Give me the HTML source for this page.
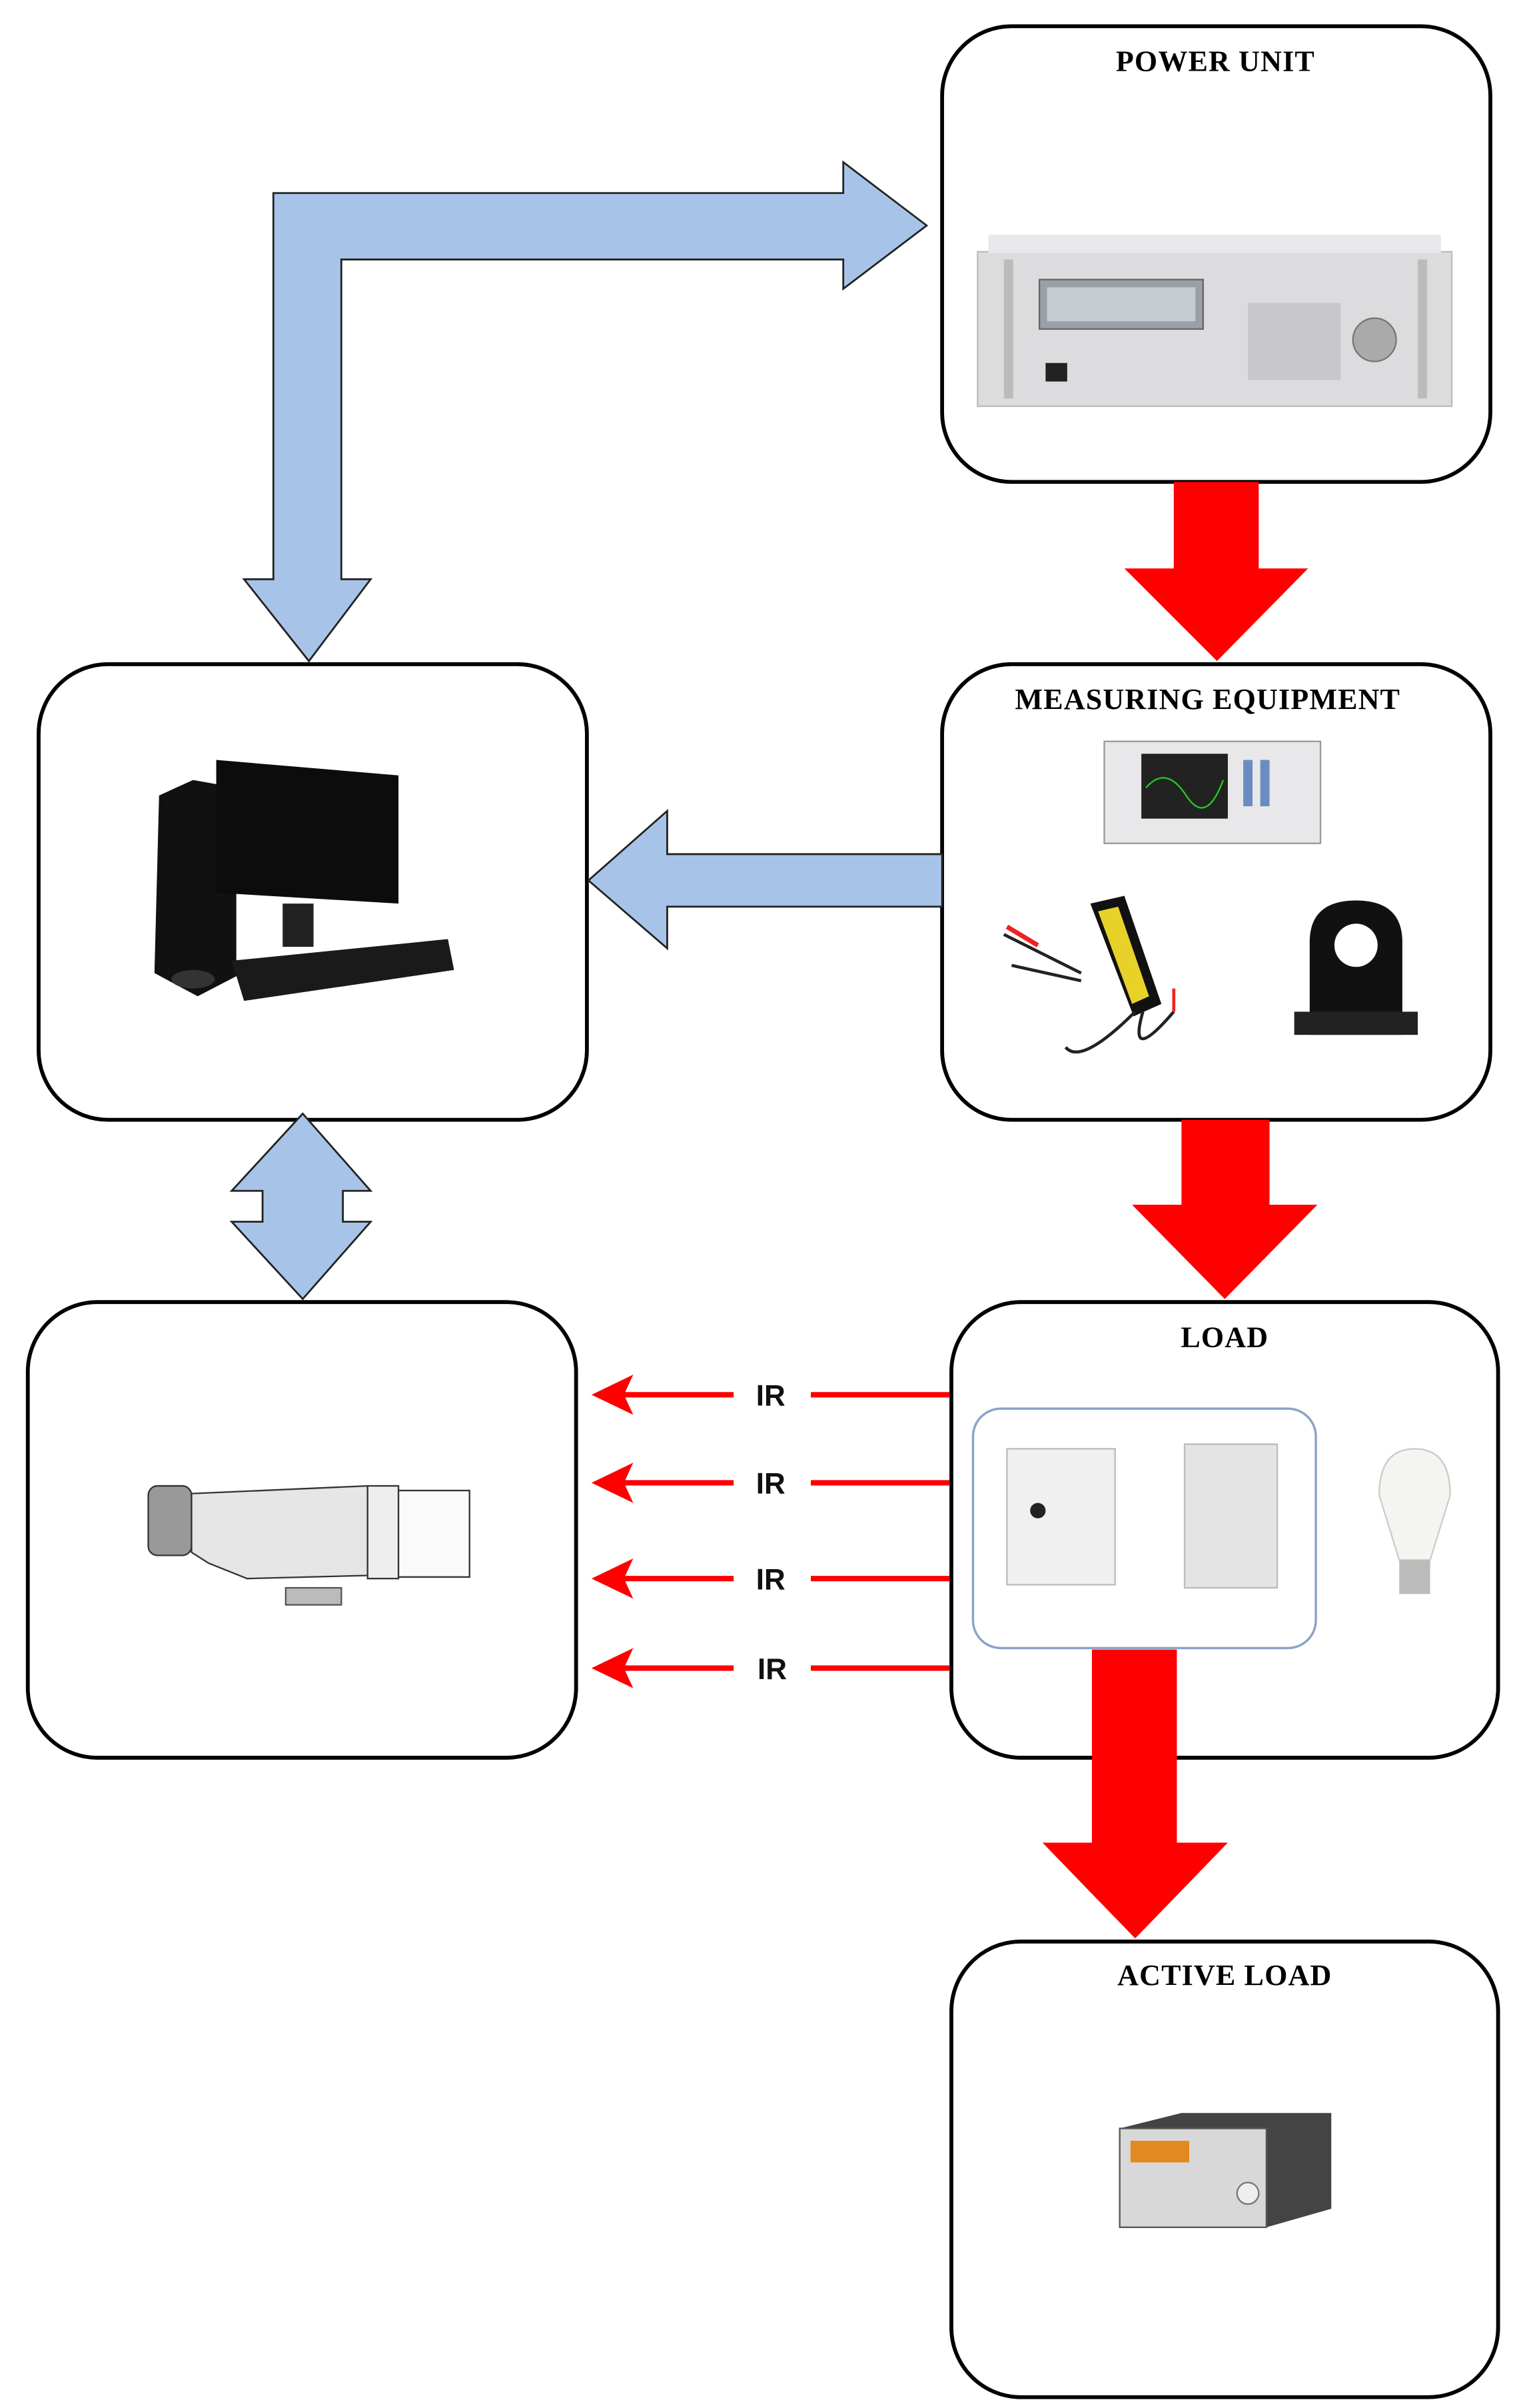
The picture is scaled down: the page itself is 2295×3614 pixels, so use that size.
<!DOCTYPE html>
<html><head><meta charset="utf-8"><style>
html,body{margin:0;padding:0;background:#fff}
svg{display:block}
text{font-family:"Liberation Serif",serif}
text.ir{font-family:"Liberation Sans",sans-serif}
</style></head><body>
<svg width="2295" height="3614" viewBox="0 0 990 1559" xmlns="http://www.w3.org/2000/svg">
<rect width="990" height="1559" fill="#fff"/>
<g fill="#fff" stroke="#000" stroke-width="2.5">
<rect x="610" y="17" width="355" height="295" rx="45"/>
<rect x="25" y="430" width="355" height="295" rx="45"/>
<rect x="610" y="430" width="355" height="295" rx="45"/>
<rect x="18" y="843" width="355" height="295" rx="45"/>
<rect x="616" y="843" width="354" height="295" rx="45"/>
<rect x="616" y="1257" width="354" height="295" rx="45"/>
</g>
<g font-size="19" font-weight="bold" text-anchor="middle" letter-spacing="0.5">
<text x="787" y="46">POWER UNIT</text>
<text x="782" y="459">MEASURING EQUIPMENT</text>
<text x="793" y="872">LOAD</text>
<text x="793" y="1285">ACTIVE LOAD</text>
</g>
<g fill="#a7c4e8" stroke="#222" stroke-width="1.2">
<polygon points="177,125 546,125 546,105 600,146 546,187 546,168 221,168 221,375 240,375 200,428 158,375 177,375"/>
<polygon points="610,553 432,553 432,525 381,570 432,614 432,587 610,587"/>
<polygon points="196,721 240,771 222,771 222,791 240,791 196,841 150,791 170,791 170,771 150,771"/>
</g>
<g fill="#ff0000">
<polygon points="760,312 815,312 815,368 847,368 788,428 728,368 760,368"/>
<polygon points="765,725 822,725 822,780 853,780 793,841 733,780 765,780"/>
<polygon points="707,1068 762,1068 762,1193 795,1193 735,1255 675,1193 707,1193"/>
</g>
<g stroke="#ff0000" stroke-width="3.5" fill="none">
<path d="M615,903 L525,903 M475,903 L398,903"/>
<path d="M615,960 L525,960 M475,960 L398,960"/>
<path d="M615,1022 L525,1022 M475,1022 L398,1022"/>
<path d="M615,1080 L525,1080 M475,1080 L398,1080"/>
</g>
<g fill="#ff0000">
<polygon points="383,903 410,890 404,903 410,916"/>
<polygon points="383,960 410,947 404,960 410,973"/>
<polygon points="383,1022 410,1009 404,1022 410,1035"/>
<polygon points="383,1080 410,1067 404,1080 410,1093"/>
</g>
<g font-size="19" font-weight="bold" text-anchor="middle" fill="#111">
<text class="ir" x="499" y="910">IR</text>
<text class="ir" x="499" y="967">IR</text>
<text class="ir" x="499" y="1029">IR</text>
<text class="ir" x="500" y="1087">IR</text>
</g>
<!-- power unit device -->
<rect x="633" y="163" width="307" height="100" fill="#dcdcde" stroke="#bbb"/>
<rect x="640" y="152" width="293" height="12" fill="#e8e8ea"/>
<rect x="673" y="181" width="106" height="32" fill="#9aa0a8" stroke="#666"/>
<rect x="678" y="186" width="96" height="22" fill="#c5ccd2"/>
<rect x="677" y="235" width="14" height="12" fill="#222"/>
<rect x="808" y="196" width="60" height="50" fill="#c8c8ca"/>
<circle cx="890" cy="220" r="14" fill="#aaa" stroke="#777"/>
<rect x="650" y="168" width="6" height="90" fill="#bbb"/><rect x="918" y="168" width="6" height="90" fill="#bbb"/>
<!-- computer -->
<polygon points="103,515 125,505 153,510 153,632 128,645 100,630" fill="#111"/>
<polygon points="140,492 258,502 258,585 140,578" fill="#0c0c0c"/>
<rect x="183" y="585" width="20" height="28" fill="#222"/>
<polygon points="150,622 290,608 294,628 158,648" fill="#1a1a1a"/>
<ellipse cx="125" cy="634" rx="14" ry="6" fill="#333"/>
<!-- measuring devices -->
<rect x="715" y="480" width="140" height="66" fill="#e8e8ea" stroke="#999"/>
<rect x="739" y="488" width="56" height="42" fill="#222"/>
<path d="M742,510 Q755,495 768,515 T792,505" stroke="#2c2" fill="none"/>
<g fill="#6a8cc0"><rect x="805" y="492" width="6" height="30"/><rect x="816" y="492" width="6" height="30"/></g>
<polygon points="706,585 728,580 752,650 734,658" fill="#111"/>
<polygon points="711,590 724,587 744,645 733,650" fill="#e8d22a"/>
<path d="M650,605 L700,630 M655,625 L700,635 M735,655 Q700,690 690,678 M740,655 Q730,690 760,655" stroke="#222" stroke-width="2" fill="none"/>
<path d="M652,600 L672,612" stroke="#e22" stroke-width="3"/>
<path d="M760,640 L760,655" stroke="#e22" stroke-width="2"/>
<path d="M848,670 L848,610 Q848,583 878,583 Q908,583 908,610 L908,670 Z" fill="#111"/>
<circle cx="878" cy="612" r="14" fill="#fff"/>
<rect x="838" y="655" width="80" height="15" fill="#222"/>
<!-- camera -->
<rect x="96" y="962" width="28" height="45" rx="6" fill="#999" stroke="#333"/>
<polygon points="124,967 238,962 238,1020 160,1022 135,1012 124,1005" fill="#e6e6e6" stroke="#333"/>
<rect x="238" y="962" width="20" height="60" fill="#eee" stroke="#333"/>
<rect x="258" y="965" width="46" height="56" fill="#fafafa" stroke="#333"/>
<rect x="185" y="1028" width="36" height="11" fill="#bbb" stroke="#555"/>
<!-- load devices -->
<rect x="630" y="912" width="222" height="155" rx="18" fill="#fff" stroke="#8aa4c8" stroke-width="1.5"/>
<rect x="652" y="938" width="70" height="88" fill="#f0f0f0" stroke="#bbb"/>
<circle cx="672" cy="978" r="5" fill="#222"/>
<rect x="767" y="935" width="60" height="93" fill="#e4e4e4" stroke="#bbb"/>
<path d="M893,968 Q893,938 916,938 Q939,938 939,968 L926,1010 L906,1010 Z" fill="#f4f4f0" stroke="#ccc"/>
<rect x="906" y="1010" width="20" height="22" fill="#bbb"/>
<!-- active load -->
<polygon points="725,1378 765,1368 862,1368 862,1430 820,1442 725,1442" fill="#444"/>
<rect x="725" y="1378" width="95" height="64" fill="#d8d8d8" stroke="#555"/>
<rect x="732" y="1386" width="38" height="14" fill="#e28a20"/>
<circle cx="808" cy="1420" r="7" fill="#eee" stroke="#777"/>
</svg>
</body></html>
